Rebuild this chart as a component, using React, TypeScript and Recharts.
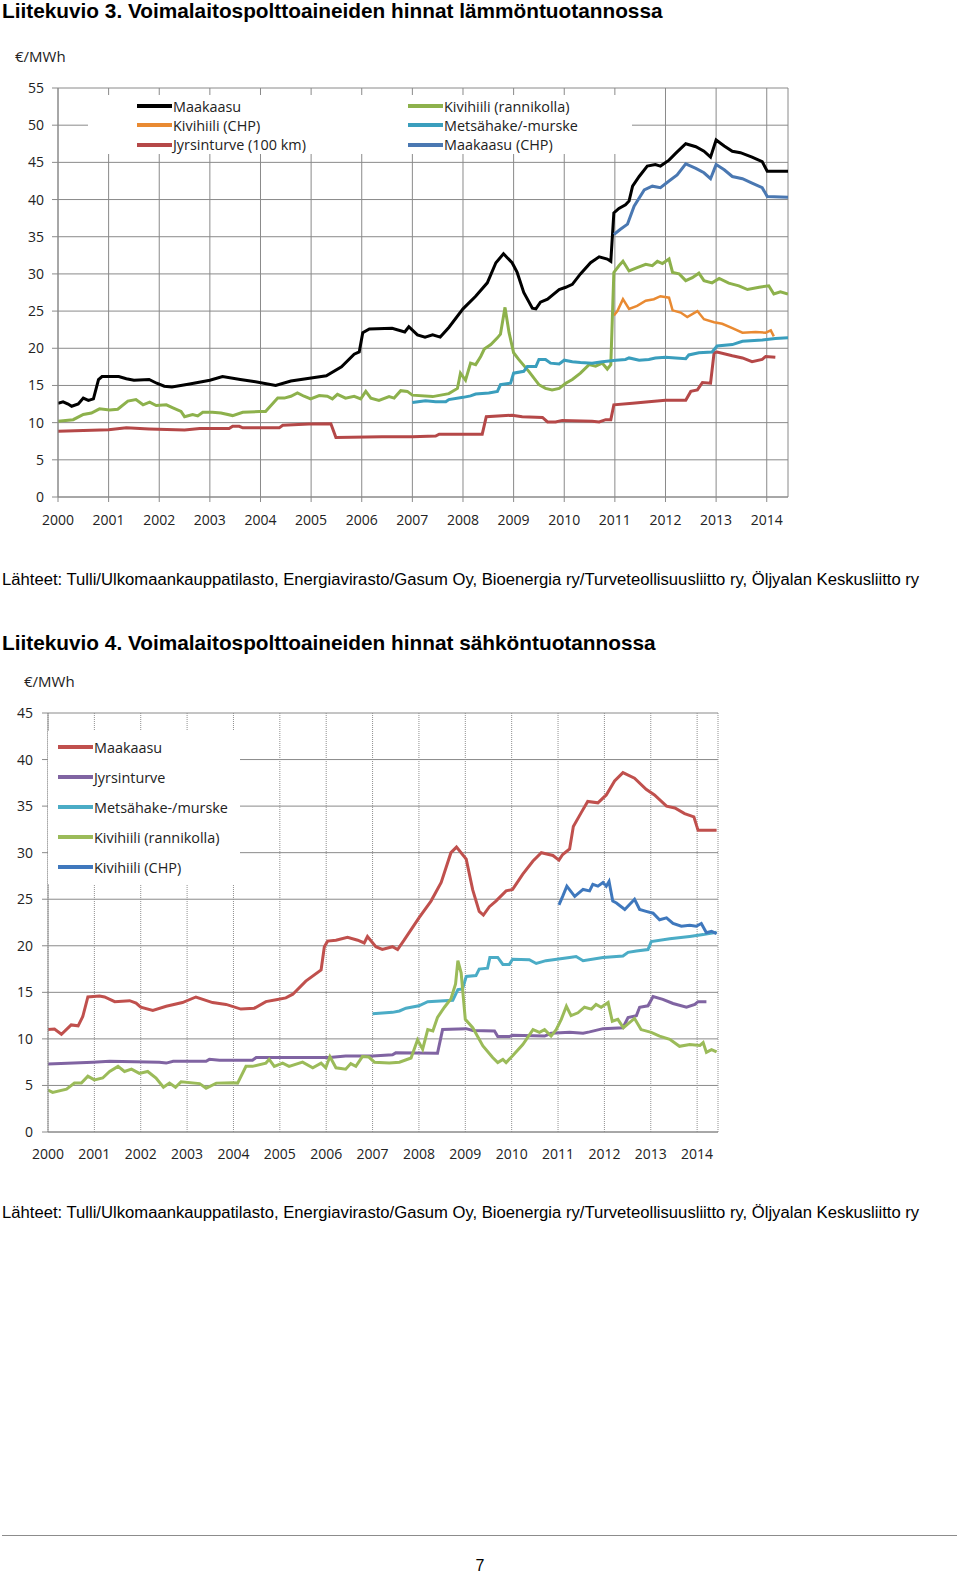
import { LineChart, Line, XAxis, YAxis, CartesianGrid, Legend } from "recharts";

// Liitekuvio 3 – lämmöntuotanto, [vuosi, €/MWh]
const heatGas: [number, number][] = [
  [2000.0, 12.6], [2000.1, 12.8], [2000.2, 12.5], [2000.27, 12.2], [2000.4, 12.5], [2000.5, 13.3], [2000.6, 13.0],
  [2000.7, 13.2], [2000.8, 15.8], [2000.87, 16.2], [2001.0, 16.2], [2001.2, 16.2], [2001.35, 15.9], [2001.5, 15.7],
  [2001.8, 15.8], [2001.95, 15.3], [2002.1, 14.9], [2002.25, 14.8], [2002.6, 15.2], [2003.0, 15.7], [2003.25, 16.2],
  [2003.6, 15.8], [2003.9, 15.5], [2004.3, 15.0], [2004.6, 15.6], [2005.0, 16.0], [2005.3, 16.3], [2005.6, 17.5],
  [2005.85, 19.2], [2005.95, 19.5], [2006.02, 22.1], [2006.15, 22.6], [2006.6, 22.7], [2006.85, 22.2], [2006.93, 22.9],
  [2007.1, 21.8], [2007.25, 21.5], [2007.4, 21.8], [2007.55, 21.5], [2007.72, 22.8], [2008.0, 25.3], [2008.25, 27.0],
  [2008.48, 28.8], [2008.65, 31.5], [2008.8, 32.7], [2008.97, 31.5], [2009.07, 30.2], [2009.2, 27.5], [2009.37, 25.4],
  [2009.44, 25.3], [2009.53, 26.2], [2009.67, 26.6], [2009.9, 27.9], [2010.03, 28.2], [2010.16, 28.6], [2010.32, 30.0],
  [2010.52, 31.5], [2010.69, 32.3], [2010.85, 32.0], [2010.92, 31.7], [2010.98, 38.2], [2011.08, 38.8], [2011.21, 39.3],
  [2011.28, 39.8], [2011.35, 41.8], [2011.48, 43.1], [2011.64, 44.5], [2011.8, 44.7], [2011.9, 44.5], [2012.07, 45.3],
  [2012.2, 46.2], [2012.4, 47.5], [2012.6, 47.1], [2012.76, 46.5], [2012.89, 45.7], [2013.0, 48.0], [2013.16, 47.2],
  [2013.32, 46.5], [2013.48, 46.3], [2013.71, 45.7], [2013.91, 45.1], [2014.01, 43.8], [2014.42, 43.8],
];
const heatCoalChp: [number, number][] = [
  [2010.98, 24.4], [2011.05, 25.0], [2011.16, 26.6], [2011.28, 25.3], [2011.44, 25.7], [2011.61, 26.4], [2011.77, 26.6],
  [2011.9, 27.0], [2012.07, 26.8], [2012.14, 25.1], [2012.3, 24.8], [2012.43, 24.2], [2012.63, 25.0], [2012.76, 23.9],
  [2012.96, 23.5], [2013.12, 23.3], [2013.32, 22.7], [2013.52, 22.1], [2013.78, 22.2], [2013.98, 22.1], [2014.08, 22.4],
  [2014.14, 21.6],
];
const heatPeat: [number, number][] = [
  [2000.0, 8.85], [2001.0, 9.05], [2001.35, 9.3], [2001.8, 9.15], [2002.5, 9.0], [2002.8, 9.2], [2003.38, 9.2],
  [2003.45, 9.5], [2003.58, 9.5], [2003.65, 9.3], [2004.37, 9.3], [2004.44, 9.65], [2004.96, 9.8], [2005.39, 9.85],
  [2005.49, 8.0], [2006.4, 8.1], [2007.0, 8.1], [2007.46, 8.2], [2007.53, 8.45], [2008.38, 8.45], [2008.46, 10.8],
  [2008.97, 11.0], [2009.17, 10.8], [2009.57, 10.7], [2009.67, 10.1], [2009.83, 10.1], [2009.96, 10.3], [2010.55, 10.2],
  [2010.69, 10.1], [2010.82, 10.4], [2010.92, 10.4], [2010.98, 12.4], [2011.35, 12.6], [2011.67, 12.8], [2012.0, 13.0],
  [2012.4, 13.0], [2012.5, 14.2], [2012.63, 14.4], [2012.73, 15.4], [2012.89, 15.3], [2012.96, 19.4], [2013.02, 19.5],
  [2013.32, 19.0], [2013.52, 18.7], [2013.71, 18.2], [2013.91, 18.5], [2013.98, 18.9], [2014.17, 18.8],
];
const heatCoalCoast: [number, number][] = [
  [2000.0, 10.2], [2000.3, 10.4], [2000.5, 11.1], [2000.66, 11.3], [2000.82, 11.85], [2001.02, 11.7], [2001.18, 11.8],
  [2001.38, 12.9], [2001.54, 13.1], [2001.68, 12.4], [2001.81, 12.75], [2001.94, 12.3], [2002.14, 12.4], [2002.27, 12.0],
  [2002.43, 11.5], [2002.5, 10.8], [2002.66, 11.1], [2002.76, 10.9], [2002.86, 11.4], [2003.05, 11.4], [2003.22, 11.3],
  [2003.45, 10.95], [2003.65, 11.4], [2003.98, 11.5], [2004.1, 11.5], [2004.34, 13.3], [2004.47, 13.3], [2004.6, 13.55],
  [2004.73, 14.0], [2004.86, 13.55], [2004.99, 13.2], [2005.16, 13.65], [2005.32, 13.55], [2005.42, 13.2], [2005.52, 13.8],
  [2005.68, 13.3], [2005.85, 13.55], [2005.98, 13.2], [2006.08, 14.2], [2006.18, 13.3], [2006.34, 13.0], [2006.54, 13.5],
  [2006.64, 13.3], [2006.77, 14.3], [2006.9, 14.2], [2007.0, 13.7], [2007.4, 13.5], [2007.72, 13.9], [2007.89, 14.6],
  [2007.95, 16.65], [2008.05, 15.7], [2008.15, 18.0], [2008.25, 17.8], [2008.35, 18.9], [2008.42, 19.9], [2008.55, 20.5],
  [2008.68, 21.4], [2008.74, 21.9], [2008.83, 25.5], [2008.91, 22.1], [2009.0, 19.4], [2009.1, 18.5], [2009.3, 16.9],
  [2009.5, 15.1], [2009.63, 14.6], [2009.76, 14.4], [2009.9, 14.6], [2010.03, 15.3], [2010.16, 15.8], [2010.32, 16.65],
  [2010.49, 17.8], [2010.62, 17.6], [2010.75, 18.0], [2010.85, 17.2], [2010.92, 17.8], [2010.98, 30.2], [2011.08, 31.1],
  [2011.16, 31.7], [2011.28, 30.4], [2011.44, 30.85], [2011.61, 31.3], [2011.74, 31.1], [2011.84, 31.7], [2011.94, 31.4],
  [2012.07, 32.0], [2012.14, 30.2], [2012.27, 30.0], [2012.4, 29.1], [2012.53, 29.5], [2012.66, 30.1], [2012.76, 29.1],
  [2012.92, 28.8], [2013.06, 29.4], [2013.25, 28.75], [2013.45, 28.4], [2013.62, 27.9], [2013.85, 28.2], [2014.04, 28.4],
  [2014.14, 27.3], [2014.27, 27.6], [2014.42, 27.3],
];
const heatChips: [number, number][] = [
  [2007.0, 12.7], [2007.26, 12.95], [2007.46, 12.8], [2007.66, 12.8], [2007.72, 13.1], [2008.0, 13.4], [2008.15, 13.6],
  [2008.25, 13.85], [2008.51, 14.0], [2008.68, 14.2], [2008.74, 15.1], [2008.94, 15.3], [2009.0, 16.65], [2009.2, 16.9],
  [2009.27, 17.55], [2009.44, 17.55], [2009.5, 18.5], [2009.63, 18.5], [2009.73, 18.0], [2009.9, 17.9], [2010.0, 18.4],
  [2010.16, 18.2], [2010.32, 18.1], [2010.55, 18.0], [2010.75, 18.2], [2011.02, 18.4], [2011.21, 18.5], [2011.28, 18.7],
  [2011.48, 18.4], [2011.67, 18.5], [2011.8, 18.7], [2012.0, 18.8], [2012.2, 18.7], [2012.4, 18.6], [2012.46, 19.1],
  [2012.66, 19.4], [2012.92, 19.5], [2013.02, 20.3], [2013.32, 20.5], [2013.52, 20.95], [2013.91, 21.1], [2014.17, 21.3],
  [2014.42, 21.4],
];
const heatGasChp: [number, number][] = [
  [2010.98, 35.3], [2011.11, 36.0], [2011.25, 36.7], [2011.38, 39.1], [2011.58, 41.3], [2011.74, 41.8], [2011.9, 41.6],
  [2012.07, 42.5], [2012.23, 43.3], [2012.4, 44.8], [2012.6, 44.2], [2012.76, 43.6], [2012.89, 42.8], [2013.0, 44.7],
  [2013.16, 44.0], [2013.32, 43.1], [2013.52, 42.8], [2013.71, 42.2], [2013.91, 41.6], [2014.01, 40.4], [2014.42, 40.3],
];

// Liitekuvio 4 – sähköntuotanto
const powerGas: [number, number][] = [
  [2000.0, 11.0], [2000.14, 11.05], [2000.29, 10.5], [2000.5, 11.5], [2000.65, 11.4], [2000.75, 12.4], [2000.86, 14.5],
  [2001.11, 14.6], [2001.22, 14.5], [2001.44, 14.0], [2001.76, 14.1], [2001.9, 13.85], [2002.0, 13.4], [2002.26, 13.05],
  [2002.55, 13.5], [2002.9, 13.9], [2003.19, 14.5], [2003.55, 13.9], [2003.84, 13.7], [2004.16, 13.2], [2004.45, 13.3],
  [2004.7, 14.0], [2004.92, 14.2], [2005.13, 14.4], [2005.28, 14.8], [2005.56, 16.2], [2005.89, 17.4], [2005.96, 19.9],
  [2006.03, 20.5], [2006.21, 20.6], [2006.46, 20.9], [2006.68, 20.6], [2006.82, 20.3], [2006.89, 21.0], [2007.07, 19.9],
  [2007.21, 19.6], [2007.43, 19.9], [2007.54, 19.6], [2007.68, 20.6], [2008.0, 23.0], [2008.26, 24.8], [2008.48, 26.8],
  [2008.69, 30.0], [2008.81, 30.6], [2009.02, 29.3], [2009.16, 26.0], [2009.3, 23.7], [2009.39, 23.3], [2009.52, 24.2],
  [2009.66, 24.8], [2009.88, 25.9], [2010.02, 26.05], [2010.24, 27.7], [2010.46, 29.1], [2010.64, 30.0], [2010.89, 29.7],
  [2011.02, 29.2], [2011.1, 29.8], [2011.25, 30.4], [2011.33, 32.8], [2011.5, 34.3], [2011.64, 35.5], [2011.86, 35.35],
  [2012.04, 36.2], [2012.22, 37.7], [2012.4, 38.6], [2012.65, 38.0], [2012.9, 36.8], [2013.08, 36.2], [2013.34, 35.0],
  [2013.52, 34.8], [2013.73, 34.2], [2013.93, 33.85], [2014.02, 32.4], [2014.42, 32.4],
];
const powerPeat: [number, number][] = [
  [2000.0, 7.3], [2000.97, 7.5], [2001.33, 7.6], [2002.4, 7.5], [2002.55, 7.4], [2002.7, 7.6], [2003.41, 7.6],
  [2003.48, 7.8], [2003.7, 7.7], [2004.41, 7.7], [2004.49, 8.0], [2006.07, 8.0], [2006.42, 8.15], [2007.0, 8.15],
  [2007.43, 8.3], [2007.5, 8.5], [2008.4, 8.45], [2008.51, 11.0], [2009.02, 11.1], [2009.16, 10.9], [2009.63, 10.85],
  [2009.7, 10.25], [2009.95, 10.25], [2010.02, 10.4], [2010.71, 10.3], [2010.85, 10.6], [2011.25, 10.7], [2011.54, 10.6],
  [2011.68, 10.75], [2011.97, 11.1], [2012.4, 11.2], [2012.51, 12.3], [2012.69, 12.5], [2012.76, 13.4], [2012.94, 13.55],
  [2013.05, 14.55], [2013.26, 14.25], [2013.48, 13.8], [2013.77, 13.4], [2013.95, 13.7], [2014.02, 14.0], [2014.2, 14.0],
];
const powerChips: [number, number][] = [
  [2007.0, 12.7], [2007.43, 12.85], [2007.58, 13.0], [2007.72, 13.3], [2008.0, 13.55], [2008.19, 14.0], [2008.73, 14.15],
  [2008.84, 15.3], [2008.94, 15.35], [2009.02, 16.7], [2009.23, 16.8], [2009.3, 17.5], [2009.48, 17.6], [2009.53, 18.75],
  [2009.7, 18.75], [2009.81, 18.0], [2009.95, 18.0], [2010.02, 18.55], [2010.38, 18.5], [2010.53, 18.1], [2010.74, 18.4],
  [2011.25, 18.75], [2011.39, 18.85], [2011.54, 18.4], [2011.97, 18.75], [2012.4, 18.9], [2012.51, 19.3], [2012.69, 19.45],
  [2012.94, 19.6], [2013.01, 20.45], [2013.41, 20.75], [2013.84, 21.0], [2014.13, 21.2], [2014.42, 21.45],
];
const powerCoalCoast: [number, number][] = [
  [2000.0, 4.5], [2000.1, 4.25], [2000.4, 4.6], [2000.57, 5.25], [2000.72, 5.25], [2000.86, 6.0], [2001.0, 5.6],
  [2001.18, 5.8], [2001.33, 6.5], [2001.51, 7.05], [2001.65, 6.5], [2001.8, 6.75], [2001.97, 6.3], [2002.15, 6.5],
  [2002.33, 5.8], [2002.49, 4.8], [2002.62, 5.25], [2002.75, 4.8], [2002.87, 5.4], [2003.27, 5.2], [2003.41, 4.7],
  [2003.63, 5.25], [2003.98, 5.3], [2004.09, 5.25], [2004.27, 7.05], [2004.41, 7.05], [2004.7, 7.4], [2004.77, 7.8],
  [2004.88, 7.05], [2005.06, 7.4], [2005.2, 7.05], [2005.49, 7.5], [2005.71, 6.9], [2005.89, 7.4], [2005.99, 6.9],
  [2006.08, 8.1], [2006.21, 6.9], [2006.42, 6.75], [2006.53, 7.35], [2006.64, 7.05], [2006.78, 8.1], [2006.92, 8.05],
  [2007.04, 7.5], [2007.36, 7.4], [2007.58, 7.5], [2007.83, 7.95], [2007.97, 9.9], [2008.08, 8.9], [2008.19, 11.0],
  [2008.3, 10.85], [2008.4, 12.3], [2008.55, 13.4], [2008.69, 14.3], [2008.79, 15.9], [2008.84, 18.4], [2008.91, 17.1],
  [2009.0, 12.1], [2009.16, 11.2], [2009.38, 9.25], [2009.59, 8.0], [2009.7, 7.45], [2009.81, 7.8], [2009.88, 7.45],
  [2010.02, 8.2], [2010.24, 9.4], [2010.46, 11.0], [2010.6, 10.7], [2010.71, 11.0], [2010.85, 10.3], [2010.96, 11.0],
  [2011.07, 12.1], [2011.18, 13.5], [2011.28, 12.5], [2011.43, 12.8], [2011.57, 13.4], [2011.72, 13.2], [2011.82, 13.7],
  [2011.93, 13.4], [2012.08, 13.9], [2012.17, 11.9], [2012.29, 12.1], [2012.41, 11.2], [2012.54, 11.75], [2012.65, 12.2],
  [2012.79, 11.0], [2013.01, 10.7], [2013.19, 10.3], [2013.41, 9.95], [2013.62, 9.2], [2013.84, 9.4], [2014.06, 9.3],
  [2014.13, 9.6], [2014.2, 8.55], [2014.31, 8.85], [2014.42, 8.6],
];
const powerCoalChp: [number, number][] = [
  [2011.02, 24.4], [2011.1, 25.3], [2011.19, 26.4], [2011.36, 25.3], [2011.54, 26.05], [2011.68, 25.9], [2011.75, 26.6],
  [2011.86, 26.4], [2011.97, 26.8], [2012.04, 26.4], [2012.1, 26.9], [2012.18, 24.8], [2012.26, 24.6], [2012.44, 23.9],
  [2012.65, 25.0], [2012.76, 23.9], [2012.9, 23.7], [2013.05, 23.5], [2013.19, 22.8], [2013.34, 23.0], [2013.48, 22.4],
  [2013.66, 22.1], [2013.84, 22.2], [2013.98, 22.1], [2014.09, 22.4], [2014.2, 21.4], [2014.31, 21.55], [2014.42, 21.3],
];

const years = [2000, 2001, 2002, 2003, 2004, 2005, 2006, 2007, 2008, 2009, 2010, 2011, 2012, 2013, 2014];
const heatTicks = [0, 5, 10, 15, 20, 25, 30, 35, 40, 45, 50, 55];
const powerTicks = [0, 5, 10, 15, 20, 25, 30, 35, 40, 45];

const sourceText =
  "Lähteet: Tulli/Ulkomaankauppatilasto, Energiavirasto/Gasum Oy, Bioenergia ry/Turveteollisuusliitto ry, Öljyalan Keskusliitto ry";

type Series = { name: string; color: string; points: [number, number][]; width: number };

const heatSeries: Series[] = [
  { name: "Maakaasu", color: "#000000", points: heatGas, width: 3 },
  { name: "Kivihiili (CHP)", color: "#E98A32", points: heatCoalChp, width: 2.5 },
  { name: "Jyrsinturve (100 km)", color: "#B54848", points: heatPeat, width: 3 },
  { name: "Kivihiili (rannikolla)", color: "#8DB14C", points: heatCoalCoast, width: 3 },
  { name: "Metsähake/-murske", color: "#3A9EBD", points: heatChips, width: 3 },
  { name: "Maakaasu (CHP)", color: "#4A78B2", points: heatGasChp, width: 3 },
];

const powerSeries: Series[] = [
  { name: "Maakaasu", color: "#C0504D", points: powerGas, width: 3 },
  { name: "Jyrsinturve", color: "#8064A2", points: powerPeat, width: 3 },
  { name: "Metsähake-/murske", color: "#4BACC6", points: powerChips, width: 3 },
  { name: "Kivihiili (rannikolla)", color: "#9BBB59", points: powerCoalCoast, width: 3 },
  { name: "Kivihiili (CHP)", color: "#3F78BD", points: powerCoalChp, width: 3 },
];

const toRows = (pts: [number, number][]) => pts.map(([x, y]) => ({ x, y }));

const font = "'Open Sans', sans-serif";
const tickStyle = { fontFamily: font, fontSize: 14, fill: "#222" };
const gridColor = "#8a8a8a";

function LegendItem({ s, x, y }: { s: Series; x: number; y: number }) {
  return (
    <div style={{ position: "absolute", left: x, top: y - 10, height: 20, display: "flex", alignItems: "center", whiteSpace: "nowrap" }}>
      <div style={{ width: 35, height: 4, background: s.color }} />
      <span style={{ fontFamily: font, fontSize: 14.4, color: "#222", marginLeft: 1 }}>{s.name}</span>
    </div>
  );
}

function HeatLegend() {
  // box spans 88..632 x 95..154 on the page; chart top at 40
  return (
    <div style={{ position: "relative", width: 544, height: 59, background: "#fff" }}>
      {heatSeries.slice(0, 3).map((s, i) => (
        <LegendItem key={s.name} s={s} x={49} y={11 + i * 19.3} />
      ))}
      {heatSeries.slice(3).map((s, i) => (
        <LegendItem key={s.name} s={s} x={320} y={11 + i * 19.3} />
      ))}
    </div>
  );
}

function PowerLegend() {
  return (
    <div style={{ position: "relative", width: 192, height: 153, background: "#fff" }}>
      {powerSeries.map((s, i) => (
        <LegendItem key={s.name} s={s} x={10} y={16 + i * 30.1} />
      ))}
    </div>
  );
}

const titleStyle: React.CSSProperties = {
  position: "absolute",
  left: 2,
  fontFamily: "'Liberation Sans', Arial, sans-serif",
  fontWeight: "bold",
  fontSize: 20.8,
  lineHeight: "24px",
  color: "#000",
  whiteSpace: "nowrap",
};
const sourceStyle: React.CSSProperties = {
  position: "absolute",
  left: 2,
  fontFamily: "'Liberation Sans', Arial, sans-serif",
  fontSize: 16.65,
  lineHeight: "20px",
  color: "#000",
  whiteSpace: "nowrap",
};
const unitStyle: React.CSSProperties = {
  position: "absolute",
  fontFamily: font,
  fontSize: 15,
  color: "#222",
};

export default function App() {
  return (
    <div style={{ position: "absolute", left: 0, top: 0, width: 960, height: 1572, background: "#fff" }}>
      <div style={{ ...titleStyle, top: -1 }}>Liitekuvio 3. Voimalaitospolttoaineiden hinnat lämmöntuotannossa</div>
      <div style={{ ...unitStyle, left: 15, top: 46 }}>€/MWh</div>

      <div style={{ position: "absolute", left: 0, top: 40 }}>
        <LineChart width={820} height={530} margin={{ top: 48, right: 32, bottom: 33, left: 0 }}>
          <CartesianGrid stroke={gridColor} strokeWidth={1} />
          <XAxis
            type="number"
            dataKey="x"
            domain={[2000, 2014.42]}
            ticks={years}
            allowDataOverflow
            height={40}
            tick={tickStyle}
            tickSize={5}
            tickMargin={13}
            stroke={gridColor}
          />
          <YAxis
            type="number"
            domain={[0, 55]}
            ticks={heatTicks}
            width={58}
            tick={tickStyle}
            tickSize={6}
            tickMargin={8}
            stroke={gridColor}
          />
          <Legend
            layout="vertical"
            align="center"
            verticalAlign="middle"
            wrapperStyle={{ left: 88, top: 55, width: 544 }}
            content={() => <HeatLegend />}
          />
          {heatSeries.map((s) => (
            <Line
              key={s.name}
              data={toRows(s.points)}
              dataKey="y"
              name={s.name}
              type="linear"
              stroke={s.color}
              strokeWidth={s.width}
              dot={false}
              isAnimationActive={false}
            />
          ))}
        </LineChart>
      </div>

      <div style={{ ...sourceStyle, top: 570 }}>{sourceText}</div>

      <div style={{ ...titleStyle, top: 631 }}>Liitekuvio 4. Voimalaitospolttoaineiden hinnat sähköntuotannossa</div>
      <div style={{ ...unitStyle, left: 24, top: 671 }}>€/MWh</div>

      <div style={{ position: "absolute", left: 0, top: 670 }}>
        <LineChart width={750} height={530} margin={{ top: 43, right: 32, bottom: 28, left: 0 }}>
          <CartesianGrid stroke={gridColor} strokeWidth={1} vertical={false} />
          <CartesianGrid stroke="#8f8f8f" strokeWidth={1} strokeDasharray="1 1" horizontal={false} />
          <XAxis
            type="number"
            dataKey="x"
            domain={[2000, 2014.45]}
            ticks={years}
            allowDataOverflow
            height={40}
            tick={tickStyle}
            tickLine={false}
            tickMargin={11}
            stroke={gridColor}
          />
          <YAxis
            type="number"
            domain={[0, 45]}
            ticks={powerTicks}
            width={48}
            tick={tickStyle}
            tickSize={6}
            tickMargin={9}
            stroke={gridColor}
          />
          <Legend
            layout="vertical"
            align="center"
            verticalAlign="middle"
            wrapperStyle={{ left: 48, top: 61, width: 192 }}
            content={() => <PowerLegend />}
          />
          {powerSeries.map((s) => (
            <Line
              key={s.name}
              data={toRows(s.points)}
              dataKey="y"
              name={s.name}
              type="linear"
              stroke={s.color}
              strokeWidth={s.width}
              dot={false}
              isAnimationActive={false}
            />
          ))}
        </LineChart>
      </div>

      <div style={{ ...sourceStyle, top: 1203 }}>{sourceText}</div>

      <div style={{ position: "absolute", left: 2, top: 1535, width: 955, height: 1, background: "#8c8c8c" }} />
      <div
        style={{
          position: "absolute",
          left: 0,
          width: 960,
          top: 1557,
          textAlign: "center",
          fontFamily: "'Liberation Sans', Arial, sans-serif",
          fontSize: 16,
          lineHeight: "18px",
        }}
      >
        7
      </div>
    </div>
  );
}
